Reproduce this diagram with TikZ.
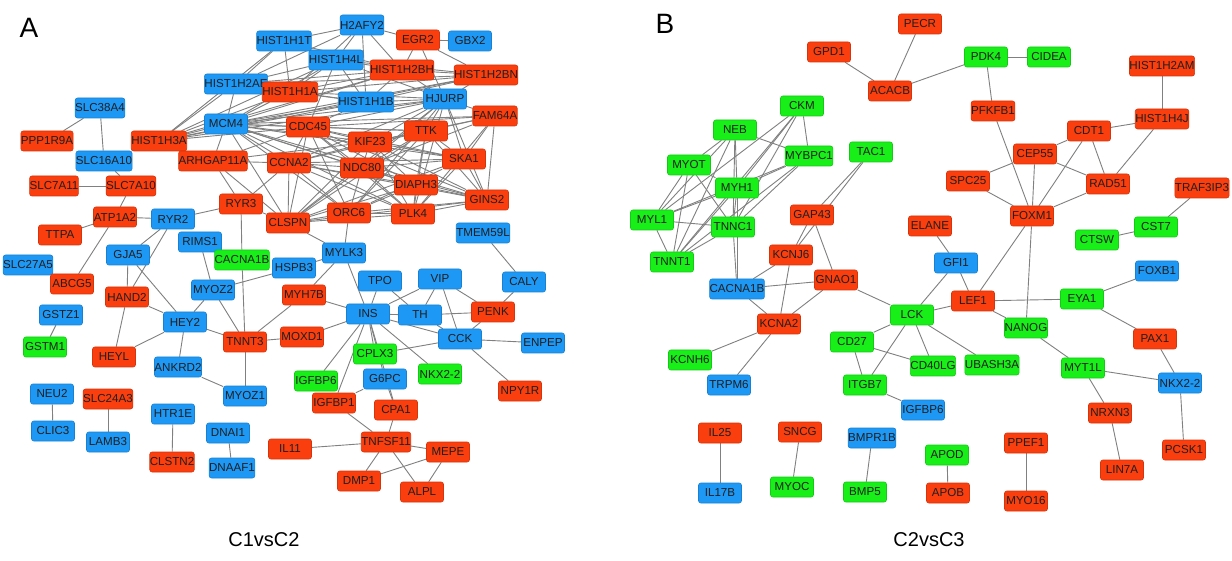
\documentclass[tikz,border=0pt]{standalone}
\usepackage{fontspec}
\setmainfont{Liberation Sans}
\usetikzlibrary{backgrounds}
\definecolor{nred}{RGB}{250,62,14}
\definecolor{nblue}{RGB}{30,152,245}
\definecolor{ngreen}{RGB}{24,238,24}
\definecolor{edgec}{RGB}{128,128,128}
\begin{document}
\begin{tikzpicture}[x=0.5pt,y=-0.5pt,
  gene/.style={rectangle, rounded corners=1.2pt, minimum width=21.5pt, minimum height=10pt, inner sep=0pt,
    font=\fontsize{5.8}{6}\selectfont, text=black!88, draw=#1!85!black, line width=0.3pt, fill=#1},
  rn/.style={gene=nred}, bn/.style={gene=nblue}, gn/.style={gene=ngreen},
  bigb/.style={minimum width=24.5pt, minimum height=11.5pt, font=\fontsize{6.3}{7}\selectfont},
  edge/.style={draw=edgec, line width=0.45pt},
  paneltag/.style={font=\fontsize{14}{16}\selectfont},
  caption/.style={font=\fontsize{10}{12}\selectfont}]
\useasboundingbox (0,0) rectangle (1232,561);

% ---------- Panel A ----------
\node[paneltag] (LA) at (29,28) {A};
\node[caption] (CA) at (264,540) {C1vsC2};
\node[bn] (HIST1H1T) at (284,41) {HIST1H1T};
\node[bn] (H2AFY2) at (362,25) {H2AFY2};
\node[rn] (EGR2) at (418,40) {EGR2};
\node[bn] (GBX2) at (470,41) {GBX2};
\node[bn] (HIST1H4L) at (336,60) {HIST1H4L};
\node[rn] (HIST1H2BH) at (402,70) {HIST1H2BH};
\node[rn] (HIST1H2BN) at (486,75) {HIST1H2BN};
\node[bn] (HIST1H2AE) at (236,84) {HIST1H2AE};
\node[rn] (HIST1H1A) at (290,92) {HIST1H1A};
\node[bn] (HIST1H1B) at (366,102) {HIST1H1B};
\node[bn] (HJURP) at (445,99) {HJURP};
\node[bn] (MCM4) at (226,124) {MCM4};
\node[rn] (CDC45) at (308,127) {CDC45};
\node[rn] (FAM64A) at (495,116) {FAM64A};
\node[rn] (TTK) at (426,131) {TTK};
\node[rn] (KIF23) at (370,142) {KIF23};
\node[rn] (SKA1) at (464,159) {SKA1};
\node[rn] (NDC80) at (362,168) {NDC80};
\node[rn] (CCNA2) at (289,163) {CCNA2};
\node[rn] (HIST1H3A) at (159,141) {HIST1H3A};
\node[rn] (ARHGAP11A) at (213,161) {ARHGAP11A};
\node[bn] (SLC38A4) at (100,108) {SLC38A4};
\node[rn] (PPP1R9A) at (47,141) {PPP1R9A};
\node[bn] (SLC16A10) at (104,161) {SLC16A10};
\node[rn] (SLC7A11) at (54,186) {SLC7A11};
\node[rn] (SLC7A10) at (131,186) {SLC7A10};
\node[rn] (ATP1A2) at (115,217) {ATP1A2};
\node[bn] (RYR2) at (173,219) {RYR2};
\node[rn] (RYR3) at (241,204) {RYR3};
\node[rn] (CLSPN) at (288,223) {CLSPN};
\node[rn] (TTPA) at (60,235) {TTPA};
\node[bn] (RIMS1) at (200,242) {RIMS1};
\node[bn] (GJA5) at (128,255) {GJA5};
\node[gn] (CACNAa) at (242,260) {CACNA1B};
\node[bn] (SLC27A5) at (28,265) {SLC27A5};
\node[bn] (HSPB3) at (294,268) {HSPB3};
\node[rn] (ABCG5) at (72,284) {ABCG5};
\node[bn] (MYOZ2) at (213,290) {MYOZ2};
\node[rn] (HAND2) at (127,297) {HAND2};
\node[rn] (MYH7B) at (304,295) {MYH7B};
\node[bn] (GSTZ1) at (61,315) {GSTZ1};
\node[bn] (HEY2) at (185,322) {HEY2};
\node[rn] (TNNT3) at (245,342) {TNNT3};
\node[rn] (MOXD1) at (302,337) {MOXD1};
\node[gn] (GSTM1) at (45,347) {GSTM1};
\node[rn] (HEYL) at (114,357) {HEYL};
\node[bn] (ANKRD2) at (178,367) {ANKRD2};
\node[bn] (MYOZ1) at (245,396) {MYOZ1};
\node[bn] (NEU2) at (52,394) {NEU2};
\node[rn] (SLC24A3) at (108,399) {SLC24A3};
\node[bn] (HTR1E) at (173,414) {HTR1E};
\node[bn] (CLIC3) at (53,431) {CLIC3};
\node[bn] (LAMB3) at (108,442) {LAMB3};
\node[bn] (DNAI1) at (228,433) {DNAI1};
\node[rn] (CLSTN2) at (172,462) {CLSTN2};
\node[bn] (DNAAF1) at (232,468) {DNAAF1};
\node[rn] (IL11) at (290,449) {IL11};
\node[gn] (IGFBPa) at (316,381) {IGFBP6};
\node[gn] (CPLX3) at (375,354) {CPLX3};
\node[gn] (NKXa) at (440,374) {NKX2-2};
\node[bn] (G6PC) at (385,379) {G6PC};
\node[rn] (NPY1R) at (520,391) {NPY1R};
\node[rn] (IGFBP1) at (334,403) {IGFBP1};
\node[rn] (CPA1) at (396,410) {CPA1};
\node[rn] (TNFSF11) at (386,442) {TNFSF11};
\node[rn] (MEPE) at (448,452) {MEPE};
\node[rn] (DMP1) at (359,481) {DMP1};
\node[rn] (ALPL) at (422,492) {ALPL};
\node[bn] (TMEM59L) at (483,233) {TMEM59L};
\node[bn] (MYLK3) at (344,253) {MYLK3};
\node[bn] (TPO) at (380,281) {TPO};
\node[bn] (VIP) at (440,279) {VIP};
\node[bn] (CALY) at (524,282) {CALY};
\node[bn] (INS) at (368,314) {INS};
\node[bn] (TH) at (420,315) {TH};
\node[rn] (PENK) at (493,312) {PENK};
\node[bn] (CCK) at (460,339) {CCK};
\node[bn] (ENPEP) at (543,343) {ENPEP};
\node[rn] (DIAPH3) at (416,185) {DIAPH3};
\node[rn] (GINS2) at (487,200) {GINS2};
\node[rn] (ORC6) at (349,213) {ORC6};
\node[rn] (PLK4) at (413,214) {PLK4};

% ---------- Panel B ----------
\node[paneltag] (LB) at (665,24) {B};
\node[caption] (CB) at (929,540) {C2vsC3};
\begin{scope}[every node/.append style={bigb}]
\node[rn] (PECR) at (920,24) {PECR};
\node[rn] (GPD1) at (829,52) {GPD1};
\node[rn] (ACACB) at (890,91) {ACACB};
\node[gn] (CKM) at (802,106) {CKM};
\node[gn] (NEB) at (735,130) {NEB};
\node[gn] (MYBPC1) at (809,156) {MYBPC1};
\node[gn] (TAC1) at (871,152) {TAC1};
\node[gn] (MYOT) at (689,165) {MYOT};
\node[gn] (PDK4) at (986,57) {PDK4};
\node[gn] (CIDEA) at (1049,57) {CIDEA};
\node[rn] (HIST1H2AM) at (1162,66) {HIST1H2AM};
\node[rn] (PFKFB1) at (993,111) {PFKFB1};
\node[rn] (HIST1H4J) at (1162,119) {HIST1H4J};
\node[rn] (CDT1) at (1089,131) {CDT1};
\node[rn] (CEP55) at (1035,154) {CEP55};
\node[rn] (SPC25) at (968,181) {SPC25};
\node[rn] (RAD51) at (1108,184) {RAD51};
\node[rn] (TRAF3IP3) at (1202,188) {TRAF3IP3};
\node[rn] (FOXM1) at (1032,216) {FOXM1};
\node[gn] (CST7) at (1156,227) {CST7};
\node[rn] (ELANE) at (930,226) {ELANE};
\node[gn] (CTSW) at (1097,240) {CTSW};
\node[bn] (GFI1) at (956,263) {GFI1};
\node[bn] (FOXB1) at (1157,271) {FOXB1};
\node[rn] (LEF1) at (973,301) {LEF1};
\node[gn] (EYA1) at (1082,299) {EYA1};
\node[gn] (NANOG) at (1026,328) {NANOG};
\node[rn] (PAX1) at (1155,339) {PAX1};
\node[gn] (LCK) at (912,315) {LCK};
\node[gn] (MYH1) at (737,188) {MYH1};
\node[gn] (MYL1) at (652,220) {MYL1};
\node[gn] (TNNC1) at (733,227) {TNNC1};
\node[rn] (GAP43) at (812,215) {GAP43};
\node[gn] (TNNT1) at (672,262) {TNNT1};
\node[rn] (KCNJ6) at (791,255) {KCNJ6};
\node[bn] (CACNAb) at (737,289) {CACNA1B};
\node[rn] (GNAO1) at (836,280) {GNAO1};
\node[rn] (KCNA2) at (779,324) {KCNA2};
\node[gn] (CD27) at (852,342) {CD27};
\node[gn] (KCNH6) at (690,360) {KCNH6};
\node[bn] (TRPM6) at (729,385) {TRPM6};
\node[gn] (ITGB7) at (865,385) {ITGB7};
\node[gn] (CD40LG) at (933,366) {CD40LG};
\node[gn] (UBASH3A) at (992,365) {UBASH3A};
\node[gn] (MYT1L) at (1083,368) {MYT1L};
\node[bn] (NKXb) at (1180,383) {NKX2-2};
\node[bn] (IGFBPb) at (923,410) {IGFBP6};
\node[rn] (NRXN3) at (1110,413) {NRXN3};
\node[rn] (PCSK1) at (1184,450) {PCSK1};
\node[rn] (PPEF1) at (1026,443) {PPEF1};
\node[gn] (APOD) at (947,455) {APOD};
\node[rn] (LIN7A) at (1122,470) {LIN7A};
\node[rn] (APOB) at (948,493) {APOB};
\node[rn] (MYO16) at (1026,501) {MYO16};
\node[rn] (IL25) at (720,433) {IL25};
\node[rn] (SNCG) at (800,432) {SNCG};
\node[bn] (BMPR1B) at (872,438) {BMPR1B};
\node[bn] (IL17B) at (720,493) {IL17B};
\node[gn] (MYOC) at (792,487) {MYOC};
\node[gn] (BMP5) at (865,492) {BMP5};
\end{scope}

\begin{pgfonlayer}{background}
\fill[white] (0,0) rectangle (1232,561);
% histone cluster
\foreach \a/\b in {HIST1H1T/H2AFY2, HIST1H1T/HIST1H2AE, HIST1H1T/HIST1H4L, HIST1H1T/HIST1H2BH, HIST1H1T/HIST1H1A,
  H2AFY2/EGR2, H2AFY2/HIST1H4L, H2AFY2/HIST1H2BH, H2AFY2/HIST1H1B, H2AFY2/HIST1H1A, H2AFY2/HIST1H2AE,
  EGR2/GBX2, EGR2/HIST1H2BH, EGR2/HIST1H2BN, EGR2/HJURP,
  HIST1H4L/HIST1H2BH, HIST1H4L/HIST1H2BN, HIST1H4L/HIST1H1B, HIST1H4L/HIST1H2AE, HIST1H4L/HIST1H1A, HIST1H4L/MCM4, HIST1H4L/HJURP, HIST1H4L/CDC45,
  HIST1H2BH/HIST1H2BN, HIST1H2BH/HIST1H1B, HIST1H2BH/HJURP, HIST1H2BH/HIST1H1A, HIST1H2BH/HIST1H2AE, HIST1H2BH/MCM4,
  HIST1H2BN/HJURP, HIST1H2BN/HIST1H1A, HIST1H2BN/HIST1H2AE, HIST1H2BN/MCM4, HIST1H2BN/HIST1H1B,
  HIST1H2AE/HIST1H1A, HIST1H2AE/MCM4, HIST1H2AE/HIST1H1B, HIST1H2AE/HIST1H3A,
  HIST1H1A/HIST1H1B, HIST1H1A/MCM4, HIST1H1A/HJURP,
  HIST1H1B/HJURP, HIST1H1B/MCM4, HIST1H1B/CDC45,
  HIST1H3A/MCM4, HIST1H3A/HIST1H1A, HIST1H3A/HIST1H4L, HIST1H3A/HIST1H2BH, HIST1H3A/HIST1H2BN, HIST1H3A/HIST1H1B,
  HIST1H3A/HJURP, HIST1H3A/CDC45, HIST1H3A/HIST1H1T}
  \draw[edge] (\a) -- (\b);
% cell-cycle cluster
\foreach \a/\b in {MCM4/CDC45, MCM4/CCNA2, MCM4/KIF23, MCM4/NDC80, MCM4/TTK, MCM4/SKA1, MCM4/HJURP, MCM4/ORC6, MCM4/PLK4,
  MCM4/CLSPN, MCM4/GINS2, MCM4/DIAPH3, MCM4/ARHGAP11A, MCM4/FAM64A,
  CDC45/CCNA2, CDC45/KIF23, CDC45/NDC80, CDC45/TTK, CDC45/SKA1, CDC45/HJURP, CDC45/ORC6, CDC45/PLK4, CDC45/CLSPN,
  CDC45/GINS2, CDC45/FAM64A, CDC45/DIAPH3,
  CCNA2/KIF23, CCNA2/NDC80, CCNA2/TTK, CCNA2/SKA1, CCNA2/HJURP, CCNA2/ORC6, CCNA2/PLK4, CCNA2/CLSPN, CCNA2/GINS2,
  CCNA2/ARHGAP11A, CCNA2/DIAPH3,
  KIF23/NDC80, KIF23/TTK, KIF23/SKA1, KIF23/HJURP, KIF23/PLK4, KIF23/CLSPN, KIF23/FAM64A, KIF23/DIAPH3, KIF23/GINS2, KIF23/ARHGAP11A,
  NDC80/TTK, NDC80/SKA1, NDC80/HJURP, NDC80/PLK4, NDC80/CLSPN, NDC80/ORC6, NDC80/GINS2, NDC80/FAM64A, NDC80/DIAPH3,
  TTK/SKA1, TTK/HJURP, TTK/PLK4, TTK/FAM64A, TTK/CLSPN, TTK/GINS2, TTK/DIAPH3, TTK/ORC6,
  SKA1/FAM64A, SKA1/HJURP, SKA1/PLK4, SKA1/GINS2, SKA1/CLSPN, SKA1/ORC6,
  HJURP/FAM64A, HJURP/PLK4, HJURP/CLSPN, HJURP/GINS2, HJURP/ORC6,
  FAM64A/GINS2, FAM64A/PLK4,
  ORC6/PLK4, ORC6/CLSPN, ORC6/GINS2, ORC6/DIAPH3,
  PLK4/GINS2, PLK4/CLSPN, PLK4/DIAPH3, DIAPH3/GINS2, CLSPN/DIAPH3, CLSPN/GINS2,
  ARHGAP11A/RYR3, ARHGAP11A/CDC45, ARHGAP11A/CLSPN, RYR3/CLSPN, RYR3/CCNA2}
  \draw[edge] (\a) -- (\b);
% periphery A
\foreach \a/\b in {SLC38A4/PPP1R9A, SLC38A4/SLC16A10, SLC16A10/SLC7A10, SLC7A11/SLC7A10, SLC7A10/ATP1A2,
  ATP1A2/RYR2, ATP1A2/TTPA, ATP1A2/ABCG5, RYR2/RYR3, RYR2/GJA5, RYR2/HAND2,
  RIMS1/CACNAa, RIMS1/MYOZ2, RYR3/CACNAa, CACNAa/TNNT3,
  GJA5/HAND2, GJA5/HEY2, HAND2/HEY2, HAND2/HEYL, HEY2/HEYL, HEY2/ANKRD2, HEY2/MYOZ2, HEY2/TNNT3,
  HSPB3/MYOZ2, MYOZ2/TNNT3, MOXD1/TNNT3, MYH7B/TNNT3, ANKRD2/MYOZ1, TNNT3/MYOZ1,
  GSTZ1/GSTM1, NEU2/CLIC3, SLC24A3/LAMB3, HTR1E/CLSTN2, DNAI1/DNAAF1,
  ORC6/MYLK3, MYLK3/HSPB3, MYLK3/MYH7B, MYLK3/INS, CLSPN/MYLK3,
  INS/TPO, INS/TH, INS/VIP, INS/CCK, INS/MYH7B, INS/MOXD1, INS/CPLX3, INS/G6PC, INS/IGFBP1, INS/IGFBPa, INS/NKXa, INS/CPA1,
  TPO/TH, VIP/TH, VIP/CCK, VIP/PENK, TH/PENK, TH/CCK, CALY/PENK, CALY/TMEM59L,
  CCK/PENK, CCK/ENPEP, CCK/NPY1R, CCK/CPLX3,
  G6PC/IGFBP1, G6PC/CPA1, IGFBP1/TNFSF11, CPA1/TNFSF11,
  TNFSF11/IL11, TNFSF11/MEPE, TNFSF11/DMP1, TNFSF11/ALPL, MEPE/DMP1, MEPE/ALPL}
  \draw[edge] (\a) -- (\b);
% panel B
\foreach \a/\b in {GPD1/ACACB, PECR/ACACB, ACACB/PDK4, PDK4/CIDEA, PDK4/PFKFB1, PFKFB1/FOXM1,
  HIST1H2AM/HIST1H4J, HIST1H4J/CDT1, HIST1H4J/RAD51, CDT1/CEP55, CDT1/RAD51, CDT1/FOXM1,
  CEP55/SPC25, CEP55/RAD51, CEP55/FOXM1, SPC25/FOXM1, RAD51/FOXM1, FOXM1/LEF1, FOXM1/NANOG,
  TRAF3IP3/CST7, CST7/CTSW, ELANE/GFI1, GFI1/LEF1, GFI1/LCK, LEF1/EYA1, LEF1/LCK, LEF1/NANOG,
  EYA1/FOXB1, EYA1/PAX1, NANOG/MYT1L, PAX1/NKXb, MYT1L/NKXb, MYT1L/NRXN3, NRXN3/LIN7A, NKXb/PCSK1,
  LCK/GNAO1, LCK/CD27, LCK/ITGB7, LCK/CD40LG, LCK/UBASH3A, CD27/ITGB7, CD27/CD40LG, ITGB7/IGFBPb,
  GAP43/KCNJ6, GAP43/GNAO1, TAC1/GAP43, TAC1/KCNJ6,
  KCNJ6/CACNAb, KCNJ6/KCNA2, CACNAb/GNAO1, CACNAb/KCNA2, GNAO1/KCNA2, KCNA2/KCNH6, KCNA2/TRPM6,
  MYH1/CACNAb, TNNC1/CACNAb,
  CKM/MYBPC1, CKM/MYH1, CKM/TNNC1, CKM/MYL1, CKM/TNNT1, NEB/MYOT, NEB/MYH1, NEB/MYBPC1, NEB/MYL1, NEB/TNNT1, NEB/TNNC1,
  MYOT/MYH1, MYOT/MYL1, MYOT/TNNT1, MYOT/TNNC1, MYBPC1/MYH1, MYBPC1/TNNC1, MYBPC1/MYL1, MYBPC1/TNNT1,
  MYH1/MYL1, MYH1/TNNT1, MYH1/TNNC1, MYL1/TNNC1, MYL1/TNNT1, TNNC1/TNNT1,
  IL25/IL17B, SNCG/MYOC, BMPR1B/BMP5, APOD/APOB, PPEF1/MYO16}
  \draw[edge] (\a) -- (\b);
\end{pgfonlayer}
\end{tikzpicture}
\end{document}
